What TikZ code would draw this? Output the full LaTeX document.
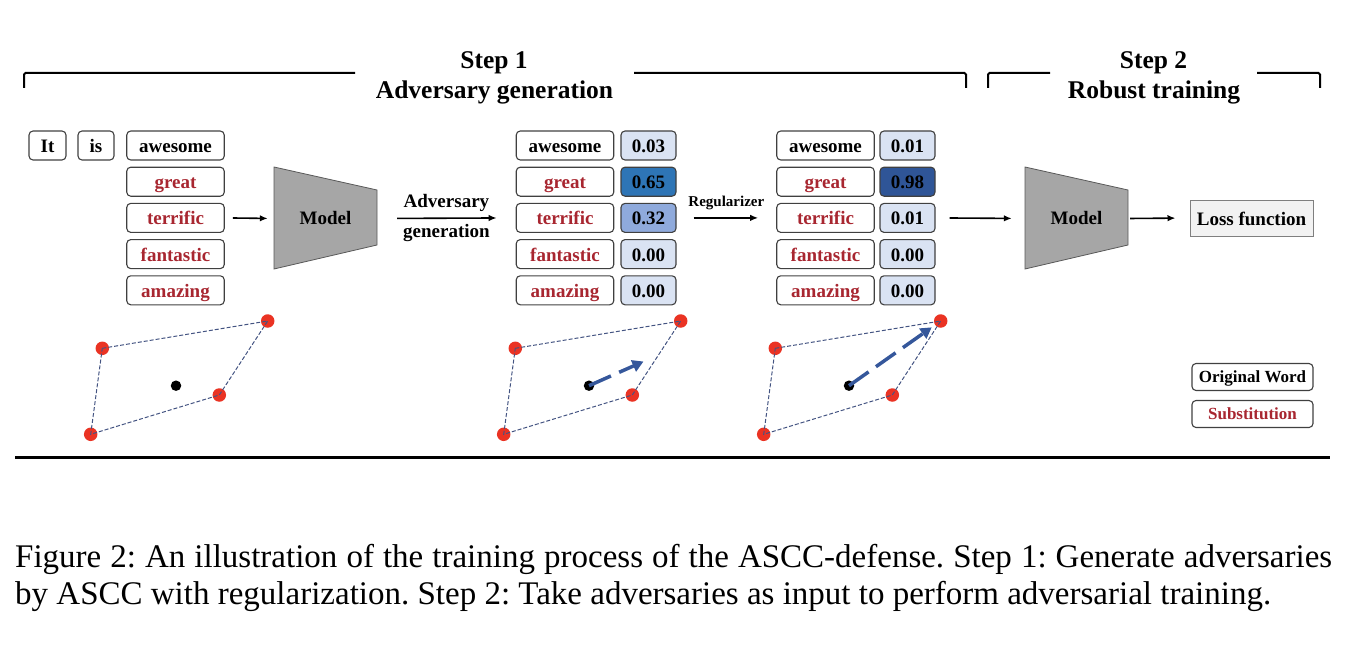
\documentclass[tikz,border=0pt]{standalone}
\usepackage{fontspec}
\setmainfont{Liberation Serif}
\usepackage{xcolor}
\usepackage{tikz}
\usetikzlibrary{arrows.meta}

\definecolor{boxline}{RGB}{64,64,64}
\definecolor{subred}{RGB}{168,38,48}
\definecolor{problight}{RGB}{218,227,243}
\definecolor{probsoft}{RGB}{143,170,220}
\definecolor{probmid}{RGB}{46,117,182}
\definecolor{probdark}{RGB}{47,85,151}
\definecolor{modelgray}{RGB}{166,166,166}
\definecolor{modelline}{RGB}{89,89,89}
\definecolor{lossfill}{RGB}{242,242,242}
\definecolor{lossline}{RGB}{127,127,127}
\definecolor{dotred}{RGB}{234,51,35}
\definecolor{edgeblue}{RGB}{68,84,130}
\definecolor{movblue}{RGB}{53,87,155}

\newcommand{\wordfont}{\fontsize{19}{22}\selectfont\bfseries}
\newcommand{\capfont}{\fontsize{33}{38}\selectfont\frenchspacing}

\begin{document}
\begin{tikzpicture}[x=1pt,y=-1pt,
    word/.style={draw=boxline,line width=1.1pt,rounded corners=4pt,inner sep=0pt,minimum width=97.5pt,minimum height=29pt,text height=16pt,text depth=2pt,font=\wordfont},
    prob/.style={word,minimum width=55pt},
    legend/.style={word,minimum width=121pt,minimum height=27pt,text height=13.5pt,text depth=2pt,font=\fontsize{17}{20}\selectfont\bfseries},
    modelshape/.style={fill=modelgray,draw=modelline,line width=0.8pt},
    flow/.style={-{Latex[length=8pt,width=6.5pt]},line width=1.6pt},
    lbl/.style={inner sep=0pt,text height=13pt,text depth=4pt,font=\wordfont},
    title/.style={anchor=base,font=\fontsize{25.5}{30}\selectfont\bfseries},
    bracket/.style={line width=2pt,rounded corners=1.5pt},
    reddot/.style={circle,fill=dotred,inner sep=0pt,minimum size=13.5pt},
    blackdot/.style={circle,fill=black,inner sep=0pt,minimum size=10.5pt},
    edge/.style={draw=edgeblue,line width=1pt,dash pattern=on 4pt off 2pt},
    move/.style={draw=movblue,line width=3.5pt,dash pattern=on 24pt off 9pt,-{Triangle[length=11pt,width=12pt]}}]
    \useasboundingbox (0,0) rectangle (1352,650);

    \node[title] (step1) at (494,68.5) {Step 1};
    \node[title] (advgen) at (494.5,98.5) {Adversary generation};
    \node[title] (step2) at (1153.5,68.5) {Step 2};
    \node[title] (robust) at (1154,98.5) {Robust training};
    \draw[bracket] (24,88) -- (24,73) -- (355,73);
    \draw[bracket] (634,73) -- (966,73) -- (966,88);
    \draw[bracket] (988,88) -- (988,73) -- (1050,73);
    \draw[bracket] (1257,73) -- (1320,73) -- (1320,88);

    \node[word,minimum width=37pt] (it) at (47.5,145.5) {It};
    \node[word,minimum width=36pt] (is) at (96,145.5) {is};
    \foreach \w/\c/\p/\pf/\q/\qf [count=\i] in {awesome/black/0.03/problight/0.01/problight,
        great/subred/0.65/probmid/0.98/probdark,
        terrific/subred/0.32/probsoft/0.01/problight,
        fantastic/subred/0.00/problight/0.00/problight,
        amazing/subred/0.00/problight/0.00/problight} {
        \node[word,text=\c] (wA\i) at (175.5,{109.3+36.2*\i}) {\w};
        \node[word,text=\c] (wB\i) at (565,{109.3+36.2*\i}) {\w};
        \node[prob,fill=\pf] (pB\i) at (648.5,{109.3+36.2*\i}) {\p};
        \node[word,text=\c] (wC\i) at (825.5,{109.3+36.2*\i}) {\w};
        \node[prob,fill=\qf] (pC\i) at (907.5,{109.3+36.2*\i}) {\q};
    }

    \draw[modelshape] (274,167) -- (377,190) -- (377,245) -- (274,269) -- cycle;
    \node[font=\wordfont,minimum width=103pt,minimum height=102pt] (model1) at (325.5,218.5) {Model};
    \draw[modelshape] (1025,167) -- (1128,190) -- (1128,245) -- (1025,269) -- cycle;
    \node[font=\wordfont,minimum width=103pt,minimum height=102pt] (model2) at (1076.5,218.5) {Model};
    \node[draw=lossline,fill=lossfill,line width=1pt,inner sep=0pt,minimum width=123pt,minimum height=36pt,text height=16pt,text depth=2pt,font=\wordfont] (loss) at (1251.5,218) {Loss function};

    \draw[flow,shorten <=8pt,shorten >=6pt] (wA3.east) -- (model1.west);
    \draw[flow,shorten <=20pt,shorten >=19pt] (model1.east) -- node[lbl,above=5.5pt] {Adversary} node[lbl,below=5.5pt] {generation} (wB3.west);
    \draw[flow,shorten <=17pt,shorten >=18pt] (pB3.east) -- node[inner sep=0pt,above=7pt,font=\fontsize{15}{18}\selectfont\bfseries] {Regularizer} (wC3.west);
    \draw[flow,shorten <=14pt,shorten >=13pt] (pC3.east) -- (model2.west);
    \draw[flow,shorten <=2pt,shorten >=14pt] (model2.east) -- (loss.west);

    \foreach \s/\ox in {A/0,B/413,C/673} {
        \begin{scope}[xshift=\ox]
            \node[reddot] (tl\s) at (102.3,348.3) {};
            \node[reddot] (tr\s) at (267.7,321) {};
            \node[reddot] (rm\s) at (219.3,395) {};
            \node[reddot] (bl\s) at (90.7,434.3) {};
            \node[blackdot] (o\s) at (176,385.7) {};
            \draw[edge] (tl\s.center) -- (tr\s.center) -- (rm\s.center) -- (bl\s.center) -- cycle;
        \end{scope}
    }
    \coordinate (tipB) at (643.5,361.5);
    \draw[move] (oB.center) -- (tipB);
    \draw[move,shorten >=11pt] (oC.center) -- (trC.center);

    \node[legend] (legorig) at (1252.5,377) {Original Word};
    \node[legend,text=subred] (legsub) at (1252.5,414) {Substitution};

    \draw[line width=2.5pt] (15,457.5) -- (1330,457.5);

    \node[anchor=base west,inner sep=0pt,font=\capfont] (cap1) at (15,567) {\makebox[1317pt][s]{Figure 2: An illustration of the training process of the ASCC-defense. Step 1: Generate adversaries}};
    \node[anchor=base west,inner sep=0pt,font=\capfont] (cap2) at (15,604) {by ASCC with regularization. Step 2: Take adversaries as input to perform adversarial training.};
\end{tikzpicture}
\end{document}
